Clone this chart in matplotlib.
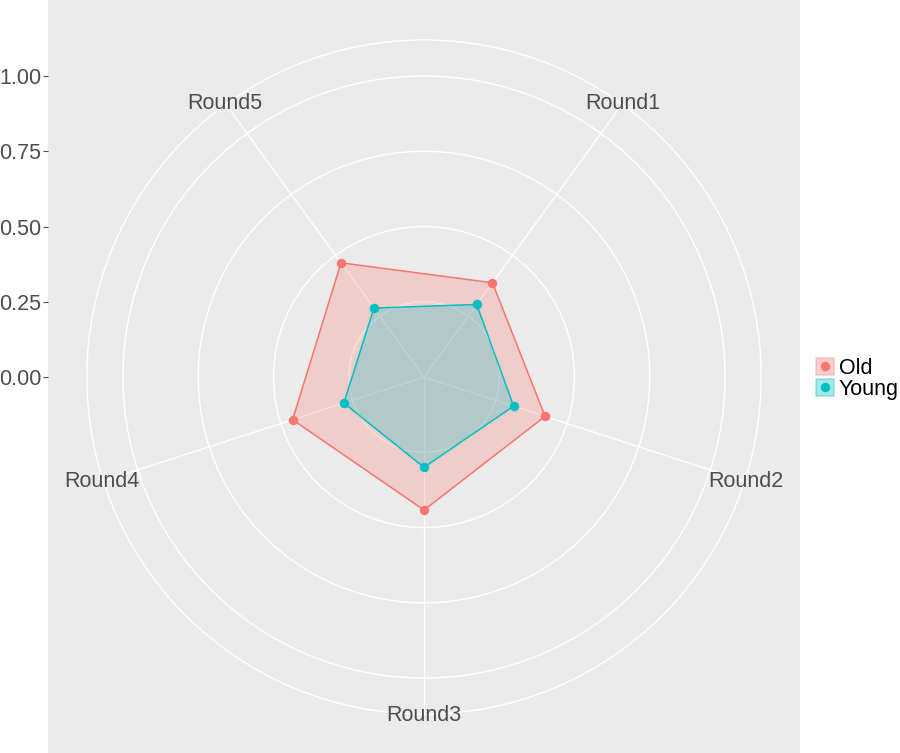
import numpy as np
import matplotlib.pyplot as plt
from matplotlib.patches import Circle, Patch
from matplotlib.lines import Line2D

plt.rcParams['font.family'] = ['Liberation Sans', 'DejaVu Sans']

# data
rounds = ['Round1', 'Round2', 'Round3', 'Round4', 'Round5']
old = [0.387, 0.423, 0.442, 0.459, 0.469]
young = [0.298, 0.313, 0.300, 0.280, 0.283]
groups = ['Old', 'Young']
colors = ['#F8766D', '#00BFC4']
grid_levels = [0.25, 0.5, 0.75, 1.0, 1.12]
y_ticks = [0.0, 0.25, 0.5, 0.75, 1.0]
y_ticklabels = ['0.00', '0.25', '0.50', '0.75', '1.00']

# angles clockwise from the top
theta = np.arange(len(rounds)) * 2 * np.pi / len(rounds) + np.pi / 5


def to_xy(r, t):
    r = np.asarray(r)
    return r * np.sin(t), r * np.cos(t)


fig = plt.figure(figsize=(9, 7.53), dpi=100)
ax = fig.add_axes([48 / 900, 0, 752 / 900, 1])
ax.set_facecolor('#EBEBEB')
ax.set_xlim(-1.249, 1.249)
ax.set_ylim(-1.249, 1.2525)
for s in ax.spines.values():
    s.set_visible(False)

# grid rings and spokes
for lvl in grid_levels:
    ax.add_patch(Circle((0, 0), lvl, fill=False, ec='white', lw=1.0, zorder=1))
for t in theta:
    x, y = to_xy([0, 1.12], t)
    ax.plot(x, y, color='white', lw=1.0, zorder=1)

# polygons
for vals, c in zip([old, young], colors):
    x, y = to_xy(vals, theta)
    ax.fill(x, y, color=c, alpha=0.25, lw=0, zorder=2)
for vals, c in zip([old, young], colors):
    x, y = to_xy(vals, theta)
    ax.plot(np.append(x, x[0]), np.append(y, y[0]), color=c, lw=1.1, zorder=3)
    ax.plot(x, y, 'o', color=c, ms=6.8, mec='none', zorder=4)

# category labels
for name, t in zip(rounds, theta):
    x, y = to_xy(1.125, t)
    ax.text(x, y, name, ha='center', va='center', fontsize=15.5, color='#4D4D4D', zorder=5)

ax.set_xticks([])
ax.set_yticks(y_ticks)
ax.set_yticklabels(y_ticklabels, fontsize=15.5, color='#4D4D4D')
ax.tick_params(axis='y', length=3.5, width=0.8, color='#4D4D4D', pad=1.5)

handles = [(Patch(facecolor=c, alpha=0.35, edgecolor=c, lw=1.1),
            Line2D([], [], marker='o', ls='none', color=c, ms=6.8, mec='none'))
           for c in colors]
fig.legend(handles, groups, loc='upper left', bbox_to_anchor=(816 / 900, 1 - 358 / 753),
           bbox_transform=fig.transFigure, frameon=False, fontsize=15.5, borderpad=0,
           handlelength=0.85, handleheight=0.85, handletextpad=0.2, labelspacing=0.0,
           borderaxespad=0)

fig.savefig('out.png', dpi=100)
